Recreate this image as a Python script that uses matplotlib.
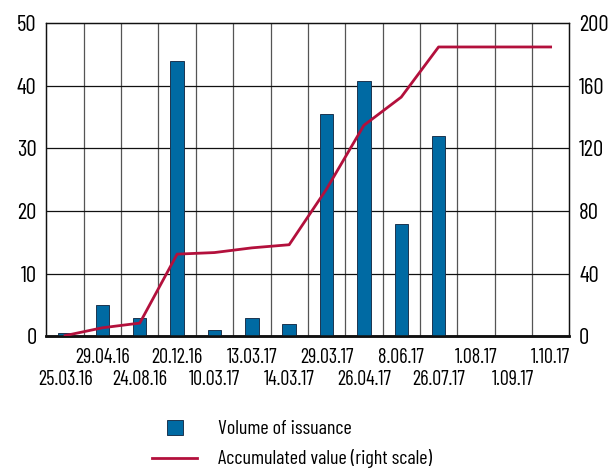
import matplotlib
matplotlib.use("Agg")
import matplotlib.pyplot as plt
from matplotlib.patches import Rectangle
from matplotlib.lines import Line2D
import numpy as np

dates = ["25.03.16", "29.04.16", "24.08.16", "20.12.16", "10.03.17", "13.03.17",
         "14.03.17", "29.03.17", "26.04.17", "8.06.17", "26.07.17", "1.08.17",
         "1.09.17", "1.10.17"]
volume = [0.5, 5, 3, 44, 1, 3, 2, 35.5, 40.7, 18, 32, 0, 0, 0]
accumulated = [0.5, 5.5, 8.5, 52.5, 53.5, 56.5, 58.5, 94, 134.7, 152.7, 184.7, 184.7, 184.7, 184.7]
left_ticks = [0, 10, 20, 30, 40, 50]
right_ticks = [0, 40, 80, 120, 160, 200]
legend_labels = ["Volume of issuance", "Accumulated value (right scale)"]

FONT = ["Barlow Condensed", "DejaVu Sans"]
plt.rcParams["font.family"] = FONT
FS_DATE = 14.6
FS_NUM = 16.5
FS_LEG = 14.5

BAR_C = "#006aa3"
LINE_C = "#b3103c"

W, H = 616, 472
fig = plt.figure(figsize=(W / 100, H / 100), dpi=100)
ax_l, ax_r, ax_t, ax_b = 46.4, 569.3, 23, 336.4
ax = fig.add_axes([ax_l / W, 1 - ax_b / H, (ax_r - ax_l) / W, (ax_b - ax_t) / H])

x = np.arange(len(dates))
ax.bar(x, volume, width=0.36, color=BAR_C, edgecolor="#1c3550", linewidth=0.7, zorder=3)
ax.set_xlim(-0.5, len(dates) - 0.5)
ax.set_ylim(0, 50)
ax.set_yticks(left_ticks)

# grid
for b in np.arange(0.5, len(dates) - 0.5, 1):
    ax.axvline(b, color="#555555", linewidth=0.9, zorder=1)
for t in left_ticks[1:-1]:
    ax.axhline(t, color="#111111", linewidth=0.9, zorder=1)

ax2 = ax.twinx()
ax2.plot(x, accumulated, color=LINE_C, linewidth=2.0, zorder=4)
ax2.set_ylim(0, 200)
ax2.set_yticks(right_ticks)

for a in (ax, ax2):
    for s in ("left", "right", "top"):
        a.spines[s].set_color("#111111")
        a.spines[s].set_linewidth(0.9)
    a.spines["bottom"].set_color("#111111")
    a.spines["bottom"].set_linewidth(1.8)
    a.tick_params(axis="y", length=0, labelsize=FS_NUM)
ax.tick_params(axis="y", pad=7)
ax2.tick_params(axis="y", pad=7)

# two-row date labels
ax.set_xticks(x[1::2])
ax.set_xticklabels(dates[1::2], fontsize=FS_DATE)
ax.set_xticks(x[0::2], minor=True)
ax.set_xticklabels(dates[0::2], minor=True, fontsize=FS_DATE)
ax.tick_params(axis="x", which="major", length=0, pad=8.5)
ax.tick_params(axis="x", which="minor", length=0, pad=24)

# legend (manual)
def fxy(xp, yp):
    return (xp / W, 1 - yp / H)
sq = Rectangle(fxy(167, 435), 16 / W, 15 / H, transform=fig.transFigure,
               facecolor=BAR_C, edgecolor="#1c3550", linewidth=0.7)
fig.add_artist(sq)
fig.text(*fxy(218, 428.5), legend_labels[0], fontsize=FS_LEG, va="center", ha="left")
ln = Line2D([152 / W, 197 / W], [1 - 458 / H, 1 - 458 / H], transform=fig.transFigure,
            color=LINE_C, linewidth=2.0)
fig.add_artist(ln)
fig.text(*fxy(218, 458), legend_labels[1], fontsize=FS_LEG, va="center", ha="left")

fig.savefig("out.png", dpi=100)
